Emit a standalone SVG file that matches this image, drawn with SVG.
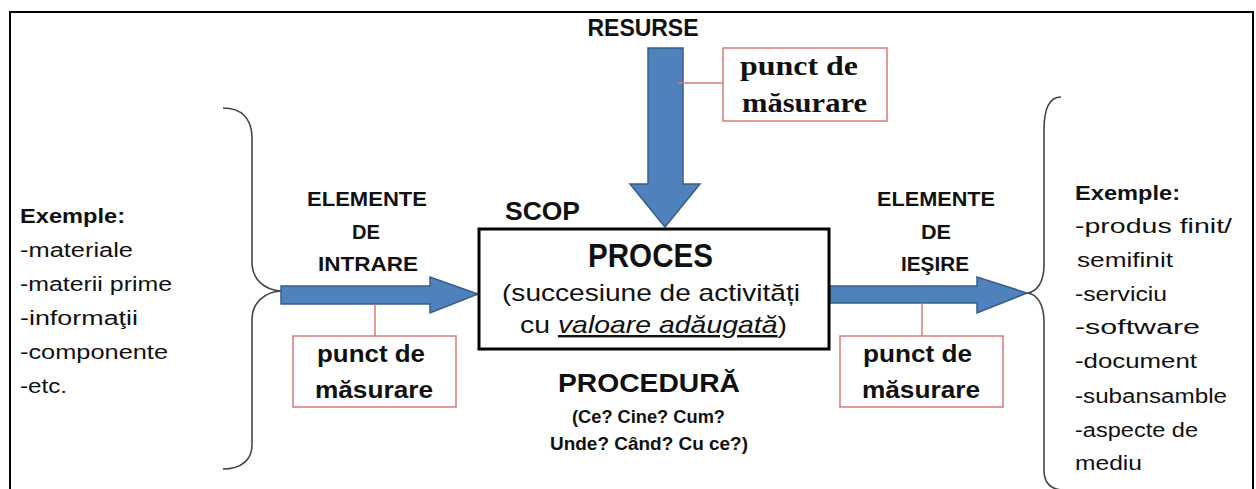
<svg xmlns="http://www.w3.org/2000/svg" width="1256" height="489" viewBox="0 0 1256 489">
<style>
.s{font-family:"Liberation Sans",Arial,sans-serif;fill:#111}
.b{font-weight:bold}
.m{text-anchor:middle}
.serif{font-family:"Liberation Serif","Times New Roman",serif;font-weight:bold;fill:#111}
.arrow{fill:#4F81BD;stroke:#385D8A;stroke-width:1.5}
.mbox{fill:#fff;stroke:#D97878;stroke-width:1.5}
.mline{fill:none;stroke:#D97878;stroke-width:1.5}
.brace{fill:none;stroke:#444;stroke-width:1.6}
.li{font-size:19.5px}
.el{font-size:20px}
</style>
<rect x="0" y="0" width="1256" height="489" fill="#fff"/>
<rect x="10" y="12" width="1243" height="500" fill="none" stroke="#000" stroke-width="2"/>

<g id="connectors">
  <path class="brace" d="M223,108 C241,108 252,118 252,138 L252,262 C252,280 265,290 281,291 C265,292 252,302 252,320 L252,445 C252,460 241,469 223,469"/>
  <path class="brace" d="M1061,97 C1050,97 1044,108 1044,130 L1044,265 C1044,282 1037,292 1027,293 C1037,294 1044,304 1044,322 L1044,470 C1044,482 1050,489 1062,490"/>
  <path id="arrow-in" class="arrow" d="M281,286 L430,286 L430,277 L478,294 L430,313 L430,304 L281,304 Z"/>
  <path id="arrow-out" class="arrow" d="M830,286 L977,286 L977,277 L1027,293 L977,313 L977,303 L830,303 Z"/>
  <path id="arrow-res" class="arrow" d="M648,48 L683,48 L683,184 L700,184 L665,227 L630,184 L648,184 Z"/>
  <line class="mline" x1="678" y1="83" x2="723" y2="83"/>
  <line class="mline" x1="375" y1="304" x2="375" y2="336"/>
  <line class="mline" x1="922" y1="303" x2="922" y2="336"/>
</g>

<g id="resurse">
  <text class="s b m" x="643" y="36" font-size="24" textLength="111" lengthAdjust="spacingAndGlyphs">RESURSE</text>
</g>

<g id="masurare-sus">
  <rect class="mbox" x="723" y="48" width="164" height="73"/>
  <text class="serif" x="740" y="75" font-size="27" textLength="118" lengthAdjust="spacingAndGlyphs">punct de</text>
  <text class="serif" x="742" y="112" font-size="27" textLength="125" lengthAdjust="spacingAndGlyphs">măsurare</text>
</g>

<g id="proces">
  <text class="s b" x="505" y="220" font-size="25" textLength="75" lengthAdjust="spacingAndGlyphs">SCOP</text>
  <rect x="479" y="229" width="350" height="120" fill="#fff" stroke="#000" stroke-width="3"/>
  <text class="s b" x="588" y="267" font-size="33" textLength="125" lengthAdjust="spacingAndGlyphs">PROCES</text>
  <text class="s" x="502" y="301" font-size="24" textLength="298" lengthAdjust="spacingAndGlyphs">(succesiune de activități</text>
  <text class="s" x="520" y="333" font-size="24" textLength="267" lengthAdjust="spacingAndGlyphs">cu <tspan font-style="italic" text-decoration="underline">valoare adăugată</tspan>)</text>
</g>

<g id="procedura">
  <text class="s b" x="558" y="392" font-size="26" textLength="182" lengthAdjust="spacingAndGlyphs">PROCEDURĂ</text>
  <text class="s b" x="572" y="423" font-size="18" textLength="153" lengthAdjust="spacingAndGlyphs">(Ce? Cine? Cum?</text>
  <text class="s b" x="550" y="450" font-size="18" textLength="198" lengthAdjust="spacingAndGlyphs">Unde? Când? Cu ce?)</text>
</g>

<g id="intrare">
  <text class="s b el" x="307" y="206" textLength="120" lengthAdjust="spacingAndGlyphs">ELEMENTE</text>
  <text class="s b el" x="352" y="239" textLength="28" lengthAdjust="spacingAndGlyphs">DE</text>
  <text class="s b el" x="318" y="271" textLength="100" lengthAdjust="spacingAndGlyphs">INTRARE</text>
</g>

<g id="iesire">
  <text class="s b el" x="877" y="206" textLength="118" lengthAdjust="spacingAndGlyphs">ELEMENTE</text>
  <text class="s b el" x="921" y="239" textLength="30" lengthAdjust="spacingAndGlyphs">DE</text>
  <text class="s b el" x="901" y="271" textLength="68" lengthAdjust="spacingAndGlyphs">IEŞIRE</text>
</g>

<g id="masurare-intrare">
  <rect class="mbox" x="293" y="336" width="163" height="71"/>
  <text class="s b" x="317" y="362" font-size="23" textLength="108" lengthAdjust="spacingAndGlyphs">punct de</text>
  <text class="s b" x="315" y="398" font-size="23" textLength="118" lengthAdjust="spacingAndGlyphs">măsurare</text>
</g>

<g id="masurare-iesire">
  <rect class="mbox" x="840" y="336" width="163" height="71"/>
  <text class="s b" x="863" y="362" font-size="23" textLength="109" lengthAdjust="spacingAndGlyphs">punct de</text>
  <text class="s b" x="862" y="398" font-size="23" textLength="118" lengthAdjust="spacingAndGlyphs">măsurare</text>
</g>

<g id="exemple-intrare">
  <text class="s b li" x="20" y="223" textLength="105" lengthAdjust="spacingAndGlyphs">Exemple:</text>
  <text class="s li" x="20" y="257" textLength="113" lengthAdjust="spacingAndGlyphs">-materiale</text>
  <text class="s li" x="20" y="291" textLength="152" lengthAdjust="spacingAndGlyphs">-materii prime</text>
  <text class="s li" x="20" y="325" textLength="118" lengthAdjust="spacingAndGlyphs">-informaţii</text>
  <text class="s li" x="20" y="359" textLength="148" lengthAdjust="spacingAndGlyphs">-componente</text>
  <text class="s li" x="20" y="393" textLength="47" lengthAdjust="spacingAndGlyphs">-etc.</text>
</g>

<g id="exemple-iesire">
  <text class="s b li" x="1075" y="200" textLength="105" lengthAdjust="spacingAndGlyphs">Exemple:</text>
  <text class="s li" x="1075" y="233" textLength="157" lengthAdjust="spacingAndGlyphs">-produs finit/</text>
  <text class="s li" x="1077" y="267" textLength="96" lengthAdjust="spacingAndGlyphs">semifinit</text>
  <text class="s li" x="1075" y="301" textLength="92" lengthAdjust="spacingAndGlyphs">-serviciu</text>
  <text class="s li" x="1075" y="334" textLength="125" lengthAdjust="spacingAndGlyphs">-software</text>
  <text class="s li" x="1075" y="368" textLength="122" lengthAdjust="spacingAndGlyphs">-document</text>
  <text class="s li" x="1075" y="403" textLength="152" lengthAdjust="spacingAndGlyphs">-subansamble</text>
  <text class="s li" x="1075" y="437" textLength="123" lengthAdjust="spacingAndGlyphs">-aspecte de</text>
  <text class="s li" x="1075" y="470" textLength="67" lengthAdjust="spacingAndGlyphs">mediu</text>
</g>
</svg>
